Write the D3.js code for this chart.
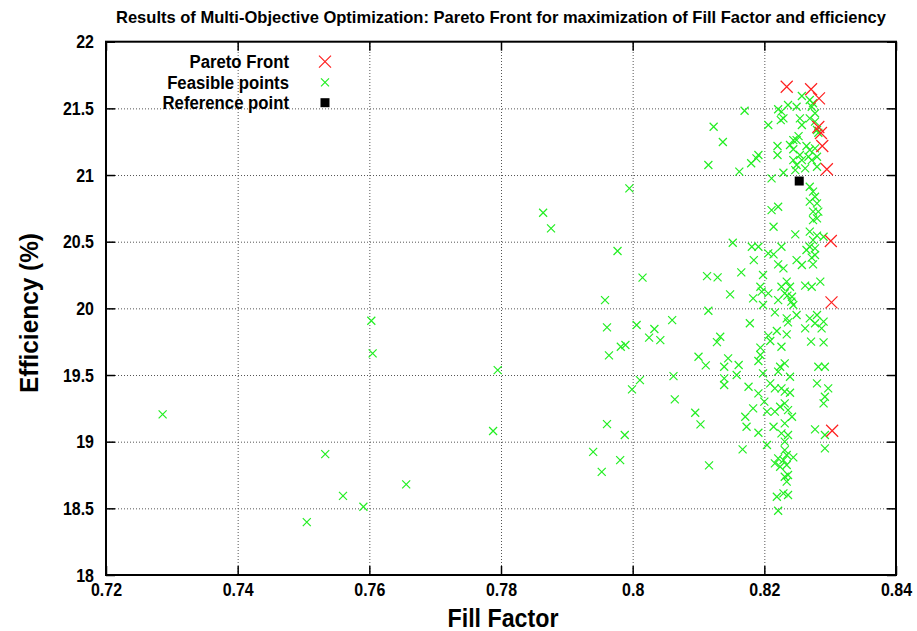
<!DOCTYPE html>
<html>
<head>
<meta charset="utf-8">
<script src="https://cdn.jsdelivr.net/npm/d3@7/dist/d3.min.js"></script>
<style>
  html, body { margin: 0; padding: 0; background: #fff; }
  svg { display: block; font-family: "Liberation Sans", Arial, sans-serif; }
</style>
</head>
<body>
<svg id="chart" width="917" height="631"></svg>
<script>
// Pareto-optimal designs: fill factor and efficiency (%)
const paretoFF  = [0.8234, 0.8271, 0.8283, 0.8282, 0.8286, 0.8288, 0.8295, 0.8301, 0.8302, 0.8303];
const paretoEff = [21.662, 21.643, 21.575, 21.360, 21.315, 21.218, 21.043, 20.505, 20.045, 19.082];

// Reference design
const referenceFF  = [0.8253];
const referenceEff = [20.955];

// All feasible designs evaluated during the optimization
const feasibleFF = [
  0.7286, 0.7603, 0.7605, 0.7533, 0.7560, 0.7591, 0.7505, 0.7656, 0.7788, 0.7795,
  0.8123, 0.8137, 0.8115, 0.7995, 0.7864, 0.7876, 0.7977, 0.8152, 0.8015, 0.8113,
  0.8129, 0.7958, 0.8148, 0.8115, 0.8006, 0.7961, 0.8033, 0.8060, 0.8025, 0.8042,
  0.7982, 0.7989, 0.7964, 0.8133, 0.8128, 0.8100, 0.8111, 0.8145, 0.8139, 0.8139,
  0.8139, 0.8062, 0.8011, 0.7999, 0.8064, 0.8095, 0.8103, 0.7961, 0.7988, 0.7940,
  0.7981, 0.7953, 0.8116,
  0.8170, 0.8206, 0.8221, 0.8226, 0.8236, 0.8229, 0.8225, 0.8249, 0.8257, 0.8254,
  0.8257, 0.8269, 0.8274, 0.8272, 0.8277, 0.8269, 0.8277, 0.8280, 0.8282, 0.8252,
  0.8249, 0.8244, 0.8239, 0.8244, 0.8220, 0.8220, 0.8264, 0.8269, 0.8277, 0.8267,
  0.8280, 0.8191, 0.8188, 0.8180, 0.8162, 0.8211, 0.8229, 0.8244, 0.8249, 0.8257,
  0.8247, 0.8262, 0.8272, 0.8280, 0.8254, 0.8269, 0.8274, 0.8277, 0.8269, 0.8280,
  0.8282, 0.8211, 0.8221, 0.8274,
  0.8280, 0.8274, 0.8214, 0.8247, 0.8269, 0.8280, 0.8290, 0.8274, 0.8269, 0.8277,
  0.8264, 0.8277, 0.8272, 0.8274, 0.8181, 0.8191, 0.8226, 0.8214, 0.8206, 0.8184,
  0.8221, 0.8229, 0.8198, 0.8165, 0.8249, 0.8257, 0.8285, 0.8234, 0.8262, 0.8272,
  0.8194, 0.8226, 0.8239, 0.8231, 0.8235, 0.8242, 0.8196, 0.8206, 0.8183, 0.8221,
  0.8241, 0.8244, 0.8198, 0.8216, 0.8178, 0.8234, 0.8249, 0.8236, 0.8262, 0.8269,
  0.8280, 0.8277, 0.8290, 0.8287, 0.8219, 0.8206, 0.8209, 0.8234, 0.8271, 0.8290,
  0.8226, 0.8194, 0.8194, 0.8191, 0.8231, 0.8224, 0.8282, 0.8292, 0.8161,
  0.8158, 0.8198, 0.8221, 0.8239, 0.8176, 0.8191, 0.8209, 0.8216, 0.8226, 0.8231,
  0.8239, 0.8280, 0.8297, 0.8292, 0.8290, 0.8200, 0.8183, 0.8204, 0.8216, 0.8224,
  0.8231, 0.8236, 0.8242, 0.8171, 0.8173, 0.8191, 0.8214, 0.8231, 0.8226, 0.8236,
  0.8231, 0.8277, 0.8292, 0.8292, 0.8167, 0.8204, 0.8231, 0.8234, 0.8221, 0.8229,
  0.8244, 0.8216, 0.8234, 0.8224, 0.8231, 0.8236, 0.8234, 0.8219, 0.8229, 0.8236,
  0.8221
];
const feasibleEff = [
  19.205, 19.907, 19.662, 18.907, 18.594, 18.512, 18.397, 18.680, 19.080, 19.537,
  21.362, 21.248, 21.075, 20.900, 20.717, 20.600, 20.430, 20.492, 20.230, 20.242,
  20.232, 20.062, 20.105, 19.982, 19.875, 19.857, 19.845, 19.912, 19.780, 19.762,
  19.712, 19.725, 19.647, 19.787, 19.747, 19.637, 19.572, 19.625, 19.562, 19.475,
  19.425, 19.492, 19.462, 19.392, 19.317, 19.217, 19.130, 19.132, 19.050, 18.924,
  18.862, 18.774, 18.822,
  21.482, 21.375, 21.493, 21.475, 21.525, 21.425, 21.412, 21.512, 21.593, 21.425,
  21.375, 21.563, 21.538, 21.512, 21.463, 21.425, 21.400, 21.338, 21.317, 21.292,
  21.262, 21.262, 21.225, 21.193, 21.218, 21.150, 21.218, 21.188, 21.200, 21.137,
  21.137, 21.150, 21.125, 21.088, 21.025, 20.975, 21.017, 21.112, 21.075, 21.112,
  21.037, 21.050, 21.112, 21.062, 21.150, 20.912, 20.875, 20.837, 20.800, 20.787,
  20.725, 20.737, 20.762, 20.725,
  20.675, 20.662, 20.612, 20.555, 20.575, 20.545, 20.537, 20.512, 20.462, 20.450,
  20.438, 20.400, 20.380, 20.330, 20.462, 20.462, 20.462, 20.405, 20.412, 20.362,
  20.330, 20.300, 20.250, 20.270, 20.362, 20.325, 20.200, 20.200, 20.170, 20.162,
  20.162, 20.162, 20.162, 20.112, 20.095, 20.087, 20.125, 20.112, 20.075, 20.062,
  20.050, 20.025, 20.025, 19.970, 19.888, 19.925, 19.950, 19.895, 19.850, 19.925,
  19.950, 19.888, 19.900, 19.850, 19.830, 19.795, 19.755, 19.805, 19.750, 19.745,
  19.712, 19.705, 19.650, 19.605, 19.587, 19.562, 19.562, 19.562, 19.575,
  19.500, 19.512, 19.525, 19.487, 19.412, 19.362, 19.437, 19.400, 19.400, 19.375,
  19.367, 19.437, 19.400, 19.337, 19.287, 19.300, 19.250, 19.225, 19.225, 19.262,
  19.287, 19.237, 19.187, 19.187, 19.112, 19.067, 19.112, 19.137, 19.062, 19.050,
  19.000, 19.092, 19.050, 18.950, 18.942, 18.975, 18.937, 18.900, 18.875, 18.862,
  18.882, 18.837, 18.825, 18.812, 18.737, 18.750, 18.700, 18.587, 18.612, 18.600,
  18.482
];

// Axis ticks and labels
const xTickValues = [0.72, 0.74, 0.76, 0.78, 0.80, 0.82, 0.84];
const xTickLabels = ["0.72", "0.74", "0.76", "0.78", "0.8", "0.82", "0.84"];
const yTickValues = [18, 18.5, 19, 19.5, 20, 20.5, 21, 21.5, 22];
const yTickLabels = ["18", "18.5", "19", "19.5", "20", "20.5", "21", "21.5", "22"];

const titleText = "Results of Multi-Objective Optimization: Pareto Front for maximization of Fill Factor and efficiency";
const xLabel = "Fill Factor";
const yLabel = "Efficiency (%)";
const legendLabels = ["Pareto Front", "Feasible points", "Reference point"];

const W = 917, H = 631;
const margin = { top: 41.7, right: 21, bottom: 56, left: 106 };
const plotW = W - margin.left - margin.right;
const plotH = H - margin.top - margin.bottom;

const svg = d3.select("#chart");
const g = svg.append("g").attr("transform", `translate(${margin.left},${margin.top})`);

const x = d3.scaleLinear().domain([0.72, 0.84]).range([0, plotW]);
const y = d3.scaleLinear().domain([18, 22]).range([plotH, 0]);

// Narrow the bold glyphs a little, like a condensed sans
function condense(sel, factor) {
  sel.each(function () {
    d3.select(this)
      .attr("textLength", this.getComputedTextLength() * factor)
      .attr("lengthAdjust", "spacingAndGlyphs");
  });
}

// Dotted grid (interior lines only)
const gridX = d3.axisBottom(x).tickValues(xTickValues.slice(1, -1)).tickSize(-plotH).tickFormat("");
const gridY = d3.axisLeft(y).tickValues(yTickValues.slice(1, -1)).tickSize(-plotW).tickFormat("");
g.append("g").attr("class", "grid").attr("transform", `translate(0,${plotH})`).call(gridX);
g.append("g").attr("class", "grid").call(gridY);
g.selectAll(".grid .domain").remove();
g.selectAll(".grid line")
  .attr("stroke", "#555")
  .attr("stroke-width", 1)
  .attr("stroke-dasharray", "1,2");

// Axes with inward ticks on all four sides
const tickLen = 9;
const xLabelMap = new Map(xTickValues.map((v, i) => [v, xTickLabels[i]]));
const yLabelMap = new Map(yTickValues.map((v, i) => [v, yTickLabels[i]]));

const axB = g.append("g").attr("transform", `translate(0,${plotH})`)
  .call(d3.axisBottom(x).tickValues(xTickValues).tickSizeInner(-tickLen).tickSizeOuter(0)
        .tickPadding(8).tickFormat(d => xLabelMap.get(d)));
const axT = g.append("g")
  .call(d3.axisTop(x).tickValues(xTickValues).tickSizeInner(-tickLen).tickSizeOuter(0).tickFormat(""));
const axL = g.append("g")
  .call(d3.axisLeft(y).tickValues(yTickValues).tickSizeInner(-tickLen).tickSizeOuter(0)
        .tickPadding(12).tickFormat(d => yLabelMap.get(d)));
const axR = g.append("g").attr("transform", `translate(${plotW},0)`)
  .call(d3.axisRight(y).tickValues(yTickValues).tickSizeInner(-tickLen).tickSizeOuter(0).tickFormat(""));

[axB, axT, axL, axR].forEach(a => {
  a.select(".domain").remove();
  a.selectAll("line").attr("stroke", "#000").attr("stroke-width", 1.5);
  a.selectAll("text")
    .attr("fill", "#000")
    .attr("font-family", "'Liberation Sans', Arial, sans-serif")
    .attr("font-weight", "bold")
    .attr("font-size", 19);
});
condense(axB.selectAll("text"), 0.84);
condense(axL.selectAll("text"), 0.84);

// Frame
g.append("rect")
  .attr("x", 0).attr("y", 0).attr("width", plotW).attr("height", plotH)
  .attr("fill", "none").attr("stroke", "#000").attr("stroke-width", 2);

// Point markers
function cross(sel, cx, cy, r, color, sw) {
  sel.append("path")
    .attr("d", `M${cx - r},${cy - r}L${cx + r},${cy + r}M${cx - r},${cy + r}L${cx + r},${cy - r}`)
    .attr("stroke", color).attr("stroke-width", sw).attr("fill", "none");
}

const feasibleG = g.append("g");
feasibleFF.forEach((v, i) => cross(feasibleG, x(v), y(feasibleEff[i]), 4, "#22ee22", 1.2));

const paretoG = g.append("g");
paretoFF.forEach((v, i) => cross(paretoG, x(v), y(paretoEff[i]), 6, "#ff2020", 1.2));

g.append("g").selectAll("rect").data(referenceFF).join("rect")
  .attr("x", (d) => x(d) - 4.5)
  .attr("y", (d, i) => y(referenceEff[i]) - 4.5)
  .attr("width", 9).attr("height", 9)
  .attr("fill", "#000");

// Legend (top-left inside the plot)
const legend = svg.append("g");
const legendY = [61.7, 82.3, 102.7];
const legendTexts = legend.selectAll("text").data(legendLabels).join("text")
  .attr("x", 289).attr("y", (d, i) => legendY[i]).attr("dy", "0.36em")
  .attr("text-anchor", "end")
  .attr("font-weight", "bold").attr("font-size", 18)
  .attr("fill", "#000")
  .text(d => d);
condense(legendTexts, 0.93);
cross(legend, 325, legendY[0], 6, "#ff2020", 1.2);
cross(legend, 325, legendY[1], 4, "#22ee22", 1.2);
legend.append("rect").attr("x", 325 - 4.5).attr("y", legendY[2] - 4.5).attr("width", 9).attr("height", 9).attr("fill", "#000");

// Title and axis titles
svg.append("text")
  .attr("x", 116).attr("y", 23)
  .attr("font-weight", "bold").attr("font-size", 17)
  .attr("textLength", 770).attr("lengthAdjust", "spacingAndGlyphs")
  .attr("fill", "#000")
  .text(titleText);

svg.append("text")
  .attr("x", 503).attr("y", 627)
  .attr("text-anchor", "middle")
  .attr("font-weight", "bold").attr("font-size", 25)
  .attr("textLength", 111).attr("lengthAdjust", "spacingAndGlyphs")
  .attr("fill", "#000")
  .text(xLabel);

svg.append("text")
  .attr("transform", "translate(38,313) rotate(-90)")
  .attr("text-anchor", "middle")
  .attr("font-weight", "bold").attr("font-size", 25)
  .attr("textLength", 160).attr("lengthAdjust", "spacingAndGlyphs")
  .attr("fill", "#000")
  .text(yLabel);
</script>
</body>
</html>
